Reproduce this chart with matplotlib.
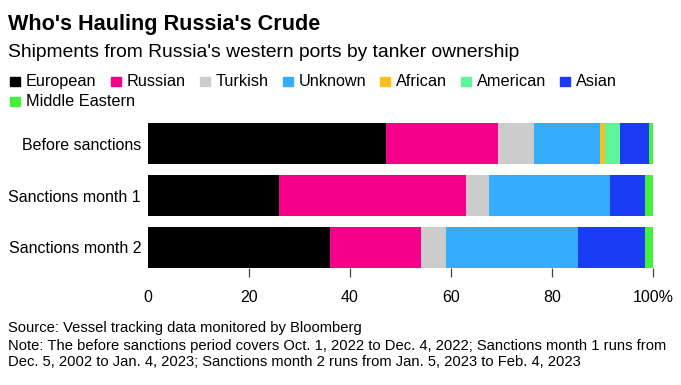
import matplotlib

matplotlib.use("Agg")
import matplotlib.pyplot as plt
from matplotlib.patches import Rectangle
from matplotlib.ticker import FuncFormatter

plt.rcParams["font.family"] = ["Liberation Sans", "DejaVu Sans"]

periods = ["Before sanctions", "Sanctions month 1", "Sanctions month 2"]
owners = ["European", "Russian", "Turkish", "Unknown", "African", "American", "Asian", "Middle Eastern"]
colors = ["#000000", "#f5008b", "#cccccc", "#36acfc", "#f9c020", "#5ef49a", "#1a3cf5", "#47f03a"]
shares = {
    "European": [47.2, 26, 36],
    "Russian": [22.2, 37, 18],
    "Turkish": [7, 4.5, 5],
    "Unknown": [13.2, 24, 26.2],
    "African": [0.8, 0, 0],
    "American": [3.1, 0, 0],
    "Asian": [5.8, 7, 13.2],
    "Middle Eastern": [0.7, 1.5, 1.6],
}

W, H = 681, 385
fig = plt.figure(figsize=(W / 100, H / 100), dpi=100)


def fx(px):
    return px / W


def fy(py):
    return 1 - py / H


ax = fig.add_axes([fx(148), fy(268), fx(653) - fx(148), fy(123) - fy(268)])
left = [0.0] * len(periods)
for name, color in zip(owners, colors):
    vals = shares[name]
    ax.barh(periods, vals, left=left, height=0.79, color=color, linewidth=0)
    left = [a + b for a, b in zip(left, vals)]

ax.set_xlim(0, 100)
ax.set_ylim(2.395, -0.395)
for s in ax.spines.values():
    s.set_visible(False)
ax.set_xticks([0, 20, 40, 60, 80, 100])
ax.xaxis.set_major_formatter(FuncFormatter(lambda v, p: "100%" if v == 100 else f"{v:.0f}"))
ax.tick_params(axis="x", length=6.5, width=0.9, color="#444444", pad=9, labelsize=11.5)
ax.tick_params(axis="y", length=0, pad=5, labelsize=11.5)
ax.xaxis.get_major_ticks()[0].tick1line.set_visible(False)

fig.text(fx(8), fy(30), "Who's Hauling Russia's Crude", fontsize=15.6, fontweight="bold", va="baseline")
fig.text(fx(8), fy(57), "Shipments from Russia's western ports by tanker ownership", fontsize=13.9, va="baseline")

# legend laid out left to right, wrapping
fig.canvas.draw()
renderer = fig.canvas.get_renderer()
x, y = 10, 86
for name, color in zip(owners, colors):
    t = fig.text(0, 0, name, fontsize=11.7, va="baseline")
    w = t.get_window_extent(renderer).width
    if x + 16 + w > W - 8:
        x, y = 10, y + 20
    fig.patches.append(Rectangle((fx(x), fy(y)), 10 / W, 9 / H, color=color, transform=fig.transFigure))
    t.set_position((fx(x + 16), fy(y)))
    x += 16 + w + 14

fig.text(fx(8), fy(328), "Source: Vessel tracking data monitored by Bloomberg", fontsize=10.6, va="center")
fig.text(fx(8), fy(354),
         "Note: The before sanctions period covers Oct. 1, 2022 to Dec. 4, 2022; Sanctions month 1 runs from\n"
         "Dec. 5, 2002 to Jan. 4, 2023; Sanctions month 2 runs from Jan. 5, 2023 to Feb. 4, 2023",
         fontsize=10.6, va="center", linespacing=1.2)

fig.savefig("out.png", dpi=100)
